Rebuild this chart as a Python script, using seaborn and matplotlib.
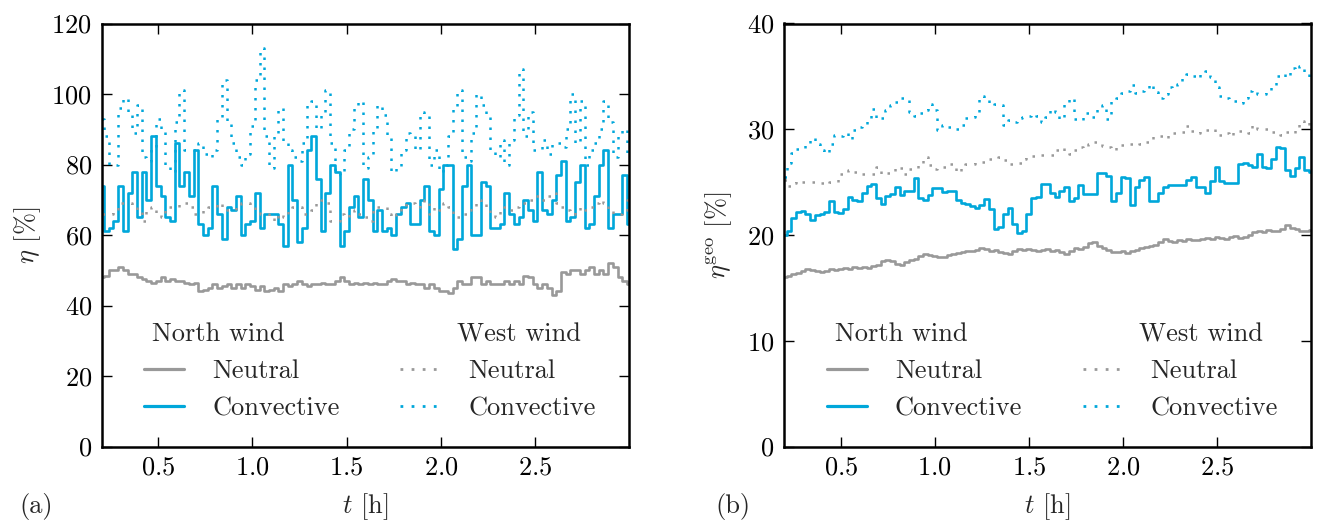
import numpy as np
import matplotlib
matplotlib.use("Agg")
import matplotlib.pyplot as plt
from matplotlib.lines import Line2D
import seaborn as sns

# time axis [h]
t_hours = np.round(np.arange(0.2, 3.0 + 1e-9, 0.025), 3)

# ---------------- panel (a): eta [%] ----------------
a_north_neutral = [48, 48.5, 50, 50, 51, 50, 49, 49, 48, 47.5,
                   47, 46.5, 47, 48, 47, 47.5, 47, 47, 46.5, 46,
                   46.5, 44, 44.5, 45, 46, 45, 45.5, 46, 45, 46,
                   45, 46, 45.5, 44.5, 45.5, 44, 44.5, 45, 44, 46,
                   45.5, 46, 47, 46, 45.5, 46, 46, 46.5, 46, 46,
                   47, 48, 47, 46, 46.5, 46, 46.5, 46,
                   46.5, 46, 46, 47, 47.5, 47, 47, 46, 46.5, 46,
                   46, 45, 46, 45, 44, 44, 43.5, 45, 47, 46,
                   46, 48, 48, 46, 47, 46,
                   46, 46, 47, 46, 47, 46, 48.5, 48, 46, 45,
                   46, 45, 43, 44, 49.5, 49, 50, 50, 49, 50,
                   51, 49, 50, 49, 52, 51, 48, 47, 46]
a_north_convective = [74, 61, 62, 64, 74, 61, 72, 78, 65, 78,
                      70, 88, 74, 71, 65, 64, 86, 74, 78, 71,
                      84, 63, 60, 62, 74, 66, 59, 68, 67, 71,
                      60, 63, 64, 72, 62, 66, 66, 66, 63, 57,
                      80, 70, 58, 62, 84, 88, 76, 61, 72, 80,
                      78, 57, 61, 68, 71, 65, 76, 70, 61, 67,
                      61, 62, 60, 66, 68, 69, 63, 63, 70, 74,
                      61, 60, 73, 80, 80, 56, 59, 74, 80, 60,
                      60, 75, 74, 62, 62, 63, 72, 66, 63, 65,
                      70, 67, 64, 78, 67, 66, 70, 77, 81, 64,
                      65, 75, 80, 62, 63, 71, 80, 84, 62, 66,
                      66, 77, 63]
a_west_neutral = [66, 66, 66, 67, 69, 69, 69, 68, 67, 64,
                  67, 68, 66, 65, 68, 68, 68, 69, 69, 68,
                  66, 66, 67, 68, 68, 69, 68, 67, 67, 68,
                  69, 69, 68, 67, 66, 66, 65, 64, 66, 65,
                  67, 68, 68, 66, 66, 67, 69, 70, 69, 64,
                  64, 66, 65, 66, 67, 66, 65, 64, 67, 68,
                  68, 66, 65, 66, 68, 69, 69, 68, 69, 70,
                  66, 68, 67, 69, 68, 66, 65, 66, 67, 68,
                  70, 69, 67, 66, 65, 67, 68, 67, 68, 69,
                  69, 70, 71, 71, 70, 71, 72, 69, 68, 67,
                  66, 67, 68, 67, 68, 69, 70, 69, 67, 66,
                  66, 67, 70]
a_west_convective = [93, 88, 80, 80, 96, 99, 94, 89, 97, 82,
                     81, 85, 93, 90, 80, 78, 92, 101, 84, 84,
                     84, 86, 83, 82, 84, 93, 104, 92, 86, 82,
                     80, 83, 91, 104, 113, 88, 79, 88, 96, 86,
                     84, 82, 81, 86, 97, 98, 90, 95, 101, 86,
                     78, 77, 84, 90, 96, 98, 79, 82, 90, 97,
                     94, 88, 78, 79, 84, 89, 88, 84, 95, 94,
                     80, 84, 78, 80, 88, 96, 101, 82, 81, 89,
                     100, 97, 94, 84, 82, 87, 80, 87, 94, 107,
                     88, 95, 84, 84, 87, 83, 86, 86, 85, 90,
                     100, 86, 98, 80, 84, 86, 90, 98, 92, 82,
                     88, 90, 83]

# ---------------- panel (b): eta_geo [%] ----------------
b_north_neutral = [16.0, 16.1, 16.3, 16.4, 16.6, 16.8, 16.7, 16.6, 16.5, 16.6,
                   16.8, 16.7, 16.8, 16.9, 16.8, 17.0, 16.9, 17.0, 16.9, 17.1,
                   17.2, 17.5, 17.6, 17.5, 17.3, 17.2, 17.4, 17.6, 17.7, 18.0,
                   18.2, 18.1, 18.0, 17.9, 17.9, 18.1, 18.2, 18.3, 18.4, 18.5,
                   18.5, 18.6, 18.8, 18.7, 18.5, 18.6, 18.4, 18.3, 18.2, 18.5,
                   18.7, 18.6, 18.7, 18.6, 18.5, 18.6, 18.7, 18.5, 18.6, 18.4,
                   18.2, 18.5, 18.8, 18.7, 18.9, 19.2, 19.3, 19.0, 18.8, 18.6,
                   18.4, 18.4, 18.5, 18.3, 18.5, 18.6, 18.8, 18.9, 19.0, 19.1,
                   19.3, 19.6, 19.4, 19.3, 19.5, 19.4, 19.6, 19.5, 19.5, 19.6,
                   19.7, 19.6, 19.8, 19.7, 19.6, 19.8, 19.9, 19.7, 19.8, 20.0,
                   20.3, 20.4, 20.3, 20.5, 20.4, 20.4, 20.6, 20.9, 20.7, 20.6,
                   20.4, 20.4, 20.5]
b_north_convective = [20.0, 20.4, 21.6, 22.2, 22.3, 22.0, 21.4, 21.9, 22.0, 22.2,
                      23.2, 22.2, 22.1, 22.5, 23.6, 23.3, 23.2, 24.0, 24.6, 24.8,
                      23.5, 22.9, 23.7, 23.9, 24.5, 23.8, 24.2, 24.2, 25.4, 23.5,
                      23.3, 23.8, 24.4, 24.4, 24.1, 24.2, 24.2, 23.3, 23.0, 22.9,
                      22.7, 22.6, 22.8, 23.4, 22.5, 20.6, 20.8, 22.0, 22.6, 21.0,
                      20.2, 20.4, 22.0, 23.5, 23.6, 24.8, 24.8, 24.0, 23.6, 24.2,
                      24.5, 23.2, 23.5, 24.7, 23.9, 23.9, 23.9, 25.9, 25.9, 25.6,
                      23.2, 24.0, 25.5, 25.4, 22.8, 24.5, 25.2, 25.5, 23.2, 23.2,
                      24.0, 24.5, 24.7, 24.7, 24.7, 24.7, 25.2, 25.5, 24.5, 24.5,
                      24.0, 25.1, 26.4, 25.1, 24.9, 24.9, 24.9, 26.7, 26.8, 26.6,
                      26.4, 27.7, 26.4, 26.3, 27.2, 28.3, 28.2, 26.1, 25.6, 26.3,
                      27.4, 26.1, 26.0]
b_west_neutral = [25.2, 24.6, 24.9, 25.1, 25.0, 25.0, 25.0, 25.0, 24.9, 24.8,
                  25.0, 25.0, 25.8, 25.9, 26.1, 26.0, 26.0, 25.8, 25.8, 25.8,
                  26.4, 25.8, 25.9, 25.9, 26.4, 26.3, 25.8, 26.2, 26.2, 26.6,
                  27.4, 26.6, 26.2, 26.4, 26.4, 26.7, 26.7, 26.0, 26.3, 26.7,
                  26.7, 26.9, 26.9, 26.9, 27.2, 27.2, 27.4, 27.1, 26.7, 26.7,
                  26.8, 27.2, 27.4, 27.5, 27.5, 27.6, 27.6, 27.6, 28.0, 28.2,
                  27.8, 27.7, 28.0, 28.3, 28.2, 28.6, 28.8, 28.7, 28.4, 28.3,
                  28.0, 28.3, 28.5, 28.6, 28.6, 28.7, 28.6, 28.8, 28.8, 29.4,
                  29.4, 29.2, 29.6, 29.6, 29.6, 29.7, 30.3, 29.8, 29.6, 29.9,
                  29.9, 30.0, 29.7, 29.5, 29.6, 29.4, 29.7, 29.8, 29.7, 29.6,
                  30.4, 30.0, 30.0, 30.0, 29.7, 29.6, 29.5, 29.7, 29.6, 29.9,
                  30.8, 30.4, 30.9]
b_west_convective = [25.5, 26.8, 27.8, 28.1, 28.2, 28.6, 29.2, 28.6, 28.0, 27.8,
                     28.6, 29.5, 29.4, 29.6, 29.1, 29.9, 30.2, 30.4, 31.0, 31.9,
                     31.0, 31.1, 31.8, 32.3, 32.6, 33.0, 32.9, 31.6, 31.3, 31.5,
                     31.8, 32.4, 31.8, 29.9, 30.4, 30.2, 30.1, 30.0, 30.4, 31.1,
                     31.2, 31.6, 33.1, 32.9, 32.3, 32.4, 32.3, 30.4, 30.9, 30.7,
                     31.1, 31.2, 31.3, 31.4, 31.3, 30.7, 31.2, 31.9, 31.6, 31.0,
                     32.4, 33.0, 31.0, 30.9, 31.5, 31.5, 31.2, 32.1, 32.3, 31.0,
                     32.9, 33.0, 33.4, 33.6, 34.2, 33.4, 33.6, 33.8, 34.3, 33.5,
                     33.0, 33.3, 34.0, 33.9, 34.3, 35.0, 35.2, 35.0, 34.8, 35.2,
                     35.5, 34.9, 34.0, 33.1, 33.0, 32.9, 32.7, 32.5, 33.0, 33.6,
                     33.7, 33.3, 33.3, 33.6, 34.0, 35.0, 35.2, 34.9, 35.8, 35.6,
                     36.0, 35.2, 34.5]

x_ticks = [0.5, 1.0, 1.5, 2.0, 2.5]
a_yticks = [0, 20, 40, 60, 80, 100, 120]
b_yticks = [0, 10, 20, 30, 40]
legend_labels = ["Neutral", "Convective", "Neutral", "Convective"]
headers = ["North wind", "West wind"]

for arr in (a_north_neutral, a_north_convective, a_west_neutral, a_west_convective,
            b_north_neutral, b_north_convective, b_west_neutral, b_west_convective):
    assert len(arr) == len(t_hours), len(arr)

# ---------------- style ----------------
sns.set_style("ticks")
plt.rcParams.update({
    "font.family": ["cmr10", "DejaVu Serif"],
    "mathtext.fontset": "cm",
    "axes.formatter.use_mathtext": True,
    "font.size": 19,
    "axes.unicode_minus": False,
})

BLUE = "#00A7DA"
GRAY = "#999999"
DOT = (0, (1, 3))
LW_SOLID = 1.9
LW_DOT = 1.8

W, H = 1317, 526
fig = plt.figure(figsize=(W / 100, H / 100), dpi=100)
ax_a = fig.add_axes([101.7 / W, 1 - 446.5 / H, 527.6 / W, 423 / H])
ax_b = fig.add_axes([784.3 / W, 1 - 446.5 / H, 526.7 / W, 423 / H])


def draw(ax, nn, nc, wn, wc):
    specs = [(nn, GRAY, "-", LW_SOLID), (nc, BLUE, "-", LW_SOLID),
             (wn, GRAY, DOT, LW_DOT), (wc, BLUE, DOT, LW_DOT)]
    for vals, col, ls, lw in specs:
        sns.lineplot(x=t_hours, y=vals, ax=ax, color=col, linestyle=ls, lw=lw,
                     drawstyle="steps-mid", estimator=None, legend=False)
    handles = [Line2D([], [], color=GRAY, lw=2.3, ls="-"),
               Line2D([], [], color=BLUE, lw=2.3, ls="-"),
               Line2D([], [], color=GRAY, lw=2.0, ls=(0, (1, 3))),
               Line2D([], [], color=BLUE, lw=2.0, ls=(0, (1, 3)))]
    ax.legend(handles, legend_labels, ncol=2, frameon=False,
              loc="center left", bbox_to_anchor=(0.0809, 0.1336),
              borderaxespad=0, borderpad=0, handlelength=1.51,
              handletextpad=1.07, columnspacing=2.28, labelspacing=0.5,
              fontsize=19)
    ax.text(0.0961, 0.2652, headers[0], transform=ax.transAxes,
            ha="left", va="center", fontsize=19)
    ax.text(0.6727, 0.2652, headers[1], transform=ax.transAxes,
            ha="left", va="center", fontsize=19)
    ax.set_xlim(0.2, 3.0)
    ax.set_xticks(x_ticks)
    ax.tick_params(direction="in", length=7.5, width=1.0, top=True, right=True,
                   labelsize=19, pad=7, colors="black")
    for sp in ax.spines.values():
        sp.set_linewidth(1.8)
        sp.set_color("black")
        sp.set_visible(True)
    ax.set_xlabel(r"$t$ [h]", fontsize=19)
    ax.xaxis.set_label_coords(0.5, -0.105)


draw(ax_a, a_north_neutral, a_north_convective, a_west_neutral, a_west_convective)
ax_a.set_ylim(0, 120)
ax_a.set_yticks(a_yticks)
ax_a.set_ylabel(r"$\eta$ [%]", fontsize=19)
ax_a.yaxis.set_label_coords(-0.112, 0.5)

draw(ax_b, b_north_neutral, b_north_convective, b_west_neutral, b_west_convective)
ax_b.set_ylim(0, 40)
ax_b.set_yticks(b_yticks)
ax_b.set_ylabel(r"$\eta^{\rm geo}$ [%]", fontsize=19)
ax_b.yaxis.set_label_coords(-0.095, 0.5)

fig.text(19 / W, 1 - 506.7 / H, "(a)", ha="left", va="center", fontsize=19)
fig.text(715 / W, 1 - 506.7 / H, "(b)", ha="left", va="center", fontsize=19)

fig.savefig("out.png", dpi=100)
